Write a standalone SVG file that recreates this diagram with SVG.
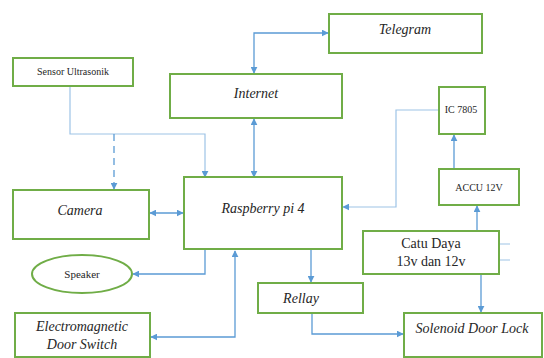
<svg xmlns="http://www.w3.org/2000/svg" width="544" height="358" viewBox="0 0 544 358">
<defs>
<style>
.box{fill:#fff;stroke:#70AD47;stroke-width:2}
.ln{fill:none;stroke:#5B9BD5;stroke-width:1.3}
.lt{fill:none;stroke:#9DC3E6;stroke-width:1.2}
.dash{stroke-dasharray:7 5}
text{fill:#262626;text-anchor:middle}
.it{font-style:italic;font-size:14px}
.sm{font-size:10px}
.md{font-size:14px}
</style>
<marker id="ah" viewBox="0 0 10 10" refX="9" refY="5" markerWidth="7" markerHeight="7" markerUnits="userSpaceOnUse" orient="auto-start-reverse">
<path d="M0,0L10,5L0,10z" fill="#5B9BD5"/>
</marker>
</defs>
<rect width="544" height="358" fill="#fff"/>
<g id="connectors">
<path class="ln" d="M254,73V33H328" marker-start="url(#ah)" marker-end="url(#ah)"/>
<path class="ln" d="M254,119V177" marker-start="url(#ah)" marker-end="url(#ah)"/>
<path class="lt" d="M70,86V134H205V177" marker-end="url(#ah)"/>
<path class="ln dash" d="M114,134V189" marker-end="url(#ah)"/>
<path class="ln" d="M150,213H183" marker-start="url(#ah)" marker-end="url(#ah)"/>
<path class="ln" d="M205,250V274H133" marker-end="url(#ah)"/>
<path class="ln" d="M151,337H235V251" marker-start="url(#ah)" marker-end="url(#ah)"/>
<path class="lt" d="M439,110H396V207H343" marker-end="url(#ah)"/>
<path class="ln" d="M311,250V282" marker-end="url(#ah)"/>
<path class="ln" d="M312,313V334H403" marker-end="url(#ah)"/>
<path class="ln" d="M481,274V312" marker-end="url(#ah)"/>
<path class="ln" d="M477,231V206" marker-end="url(#ah)"/>
<path class="ln" d="M454,169V135" marker-end="url(#ah)"/>
<path class="lt" d="M500,244H510M500,260H510"/>
</g>
<g font-family="Liberation Serif, DejaVu Serif, serif">
<g id="telegram"><rect class="box" x="329" y="14" width="153" height="39"/><text class="it" x="405" y="34">Telegram</text></g>
<g id="internet"><rect class="box" x="170" y="74" width="172" height="44"/><text class="it" x="256" y="98">Internet</text></g>
<g id="sensor"><rect class="box" x="13" y="58" width="120" height="28"/><text class="sm" x="73" y="75">Sensor Ultrasonik</text></g>
<g id="ic7805"><rect class="box" x="439" y="87" width="46" height="47"/><text class="sm" x="461" y="113">IC 7805</text></g>
<g id="raspberry"><rect class="box" x="184" y="177" width="158" height="72"/><text class="it" x="263" y="213">Raspberry pi 4</text></g>
<g id="camera"><rect class="box" x="13" y="190" width="136" height="49"/><text class="it" x="80" y="215">Camera</text></g>
<g id="speaker"><ellipse class="box" cx="82" cy="274" rx="50" ry="19"/><text class="sm" x="82" y="278" style="font-size:11px">Speaker</text></g>
<g id="electromagnetic"><rect class="box" x="15" y="313" width="135" height="44"/><text class="it" x="82" y="331">Electromagnetic</text><text class="it" x="82" y="349">Door Switch</text></g>
<g id="accu"><rect class="box" x="439" y="169" width="80" height="36"/><text class="sm" x="479" y="191">ACCU 12V</text></g>
<g id="catudaya"><rect class="box" x="363" y="231" width="136" height="43"/><text class="md" x="431" y="248">Catu Daya</text><text class="md" x="431" y="266">13v dan 12v</text></g>
<g id="rellay"><rect class="box" x="258" y="283" width="105" height="30"/><text class="it" x="301" y="303">Rellay</text></g>
<g id="solenoid"><rect class="box" x="404" y="313" width="138" height="44"/><text class="it" x="472" y="333">Solenoid Door Lock</text></g>
</g>
</svg>
